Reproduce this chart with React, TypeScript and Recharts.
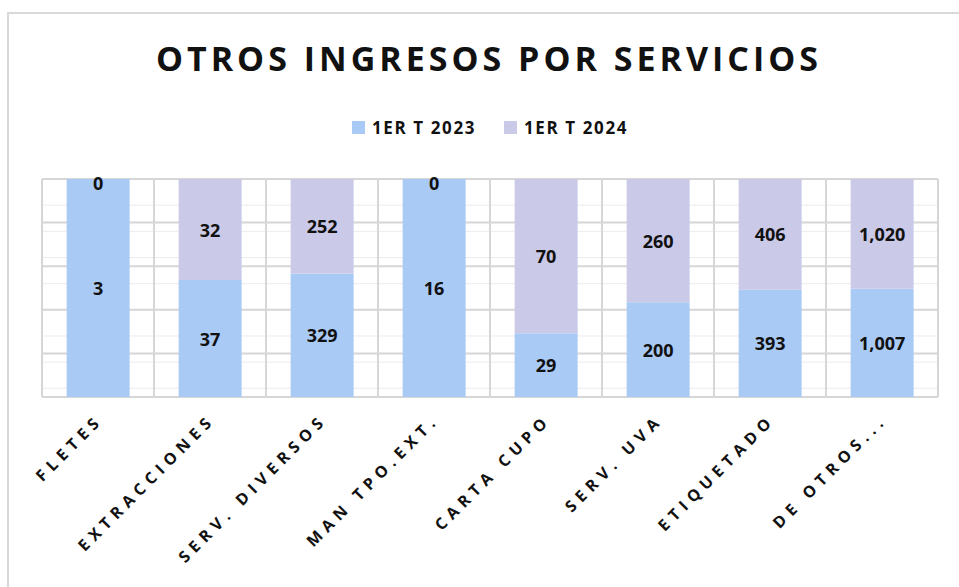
import React from "react";
import { BarChart, Bar, XAxis, YAxis, CartesianGrid, LabelList } from "recharts";

const categories = ["FLETES", "EXTRACCIONES", "SERV. DIVERSOS", "MAN TPO.EXT.", "CARTA CUPO", "SERV. UVA", "ETIQUETADO", "DE OTROS..."];
const series2023 = [3, 37, 329, 16, 29, 200, 393, 1007];
const series2024 = [0, 32, 252, 0, 70, 260, 406, 1020];
const seriesNames = ["1ER T 2023", "1ER T 2024"];
const colors = ["#AACAF6", "#CACAE8"];

const data = categories.map((c, i) => ({ name: c, a: series2023[i], b: series2024[i] }));

const FONT = "'Open Sans', 'DejaVu Sans', sans-serif";
const minorTicks = Array.from({ length: 26 }, (_, i) => i / 25);
const majorTicks = [0, 0.2, 0.4, 0.6, 0.8, 1];

const fmt = (v: any) => Number(v).toLocaleString("en-US");
const labelStyle = { fontFamily: FONT, fontWeight: 700, fontSize: 18, fill: "#111" };

const Tick = (props: any) => {
  const { x, y, payload } = props;
  const tx = x + 6;
  const ty = y + 16;
  return (
    <text
      x={tx}
      y={ty}
      transform={`rotate(-45, ${tx}, ${ty})`}
      textAnchor="end"
      fontFamily={FONT}
      fontWeight={700}
      fontSize={16}
      letterSpacing={5.5}
      fill="#111"
    >
      {payload.value}
    </text>
  );
};

const LabelA = (props: any) => {
  const { x, y, width, height, value, index } = props;
  const cx = x + width / 2;
  const zeroB = series2024[index] === 0;
  return (
    <g>
      <text x={cx} y={y + height / 2} textAnchor="middle" dominantBaseline="central" style={labelStyle}>
        {fmt(value)}
      </text>
      {zeroB ? (
        <text x={cx} y={y + 4} textAnchor="middle" dominantBaseline="central" style={labelStyle}>
          {fmt(0)}
        </text>
      ) : null}
    </g>
  );
};

const LabelB = (props: any) => {
  const { x, y, width, height, value } = props;
  if (!value) return null;
  return (
    <text x={x + width / 2} y={y + height / 2} textAnchor="middle" dominantBaseline="central" style={labelStyle}>
      {fmt(value)}
    </text>
  );
};

export default function App() {
  const W = 959;
  const H = 587;
  const margin = { top: 179, right: 21, bottom: 0, left: 42 };
  const vGen = ({ offset }: any) => {
    const n = categories.length;
    return Array.from({ length: n + 1 }, (_, i) => offset.left + (i * offset.width) / n);
  };
  return (
    <div style={{ position: "absolute", left: 0, top: 0, width: W, height: H, background: "#fff", fontFamily: FONT, overflow: "hidden" }}>
      <div style={{ position: "absolute", left: 7, top: 12, width: 960, height: 590, border: "2px solid #d9d9d9", boxSizing: "border-box" }} />
      <div
        style={{
          position: "absolute",
          left: 0,
          top: 35,
          width: 978,
          textAlign: "center",
          fontSize: 34,
          fontWeight: 700,
          letterSpacing: 4,
          color: "#111",
        }}
      >
        OTROS INGRESOS POR SERVICIOS
      </div>
      <div style={{ position: "absolute", left: 352, top: 116, display: "flex", alignItems: "center", fontSize: 17, fontWeight: 700, letterSpacing: 1.6, color: "#111" }}>
        {seriesNames.map((s, i) => (
          <div key={s} style={{ display: "flex", alignItems: "center", marginRight: 28 }}>
            <div style={{ width: 13, height: 13, background: colors[i], marginRight: 7 }} />
            <span>{s}</span>
          </div>
        ))}
      </div>
      <div style={{ position: "absolute", left: 0, top: 0 }}>
        <BarChart width={W} height={H} data={data} margin={margin} stackOffset="expand" barCategoryGap="22%">
          <CartesianGrid yAxisId="minor" horizontal={true} vertical={false} stroke="#ececec" strokeWidth={1} />
          <CartesianGrid
            yAxisId="major"
            horizontal={true}
            vertical={true}
            verticalCoordinatesGenerator={vGen}
            stroke="#d6d6d6"
            strokeWidth={2}
          />
          <XAxis dataKey="name" interval={0} tickLine={false} axisLine={false} tick={<Tick />} height={190} />
          <YAxis yAxisId="minor" hide domain={[0, 1]} ticks={minorTicks} />
          <YAxis yAxisId="major" hide domain={[0, 1]} ticks={majorTicks} />
          <YAxis yAxisId="main" hide domain={[0, 1]} />
          <Bar yAxisId="main" dataKey="a" stackId="s" fill={colors[0]} isAnimationActive={false}>
            <LabelList dataKey="a" content={<LabelA />} />
          </Bar>
          <Bar yAxisId="main" dataKey="b" stackId="s" fill={colors[1]} isAnimationActive={false}>
            <LabelList dataKey="b" content={<LabelB />} />
          </Bar>
        </BarChart>
      </div>
    </div>
  );
}
